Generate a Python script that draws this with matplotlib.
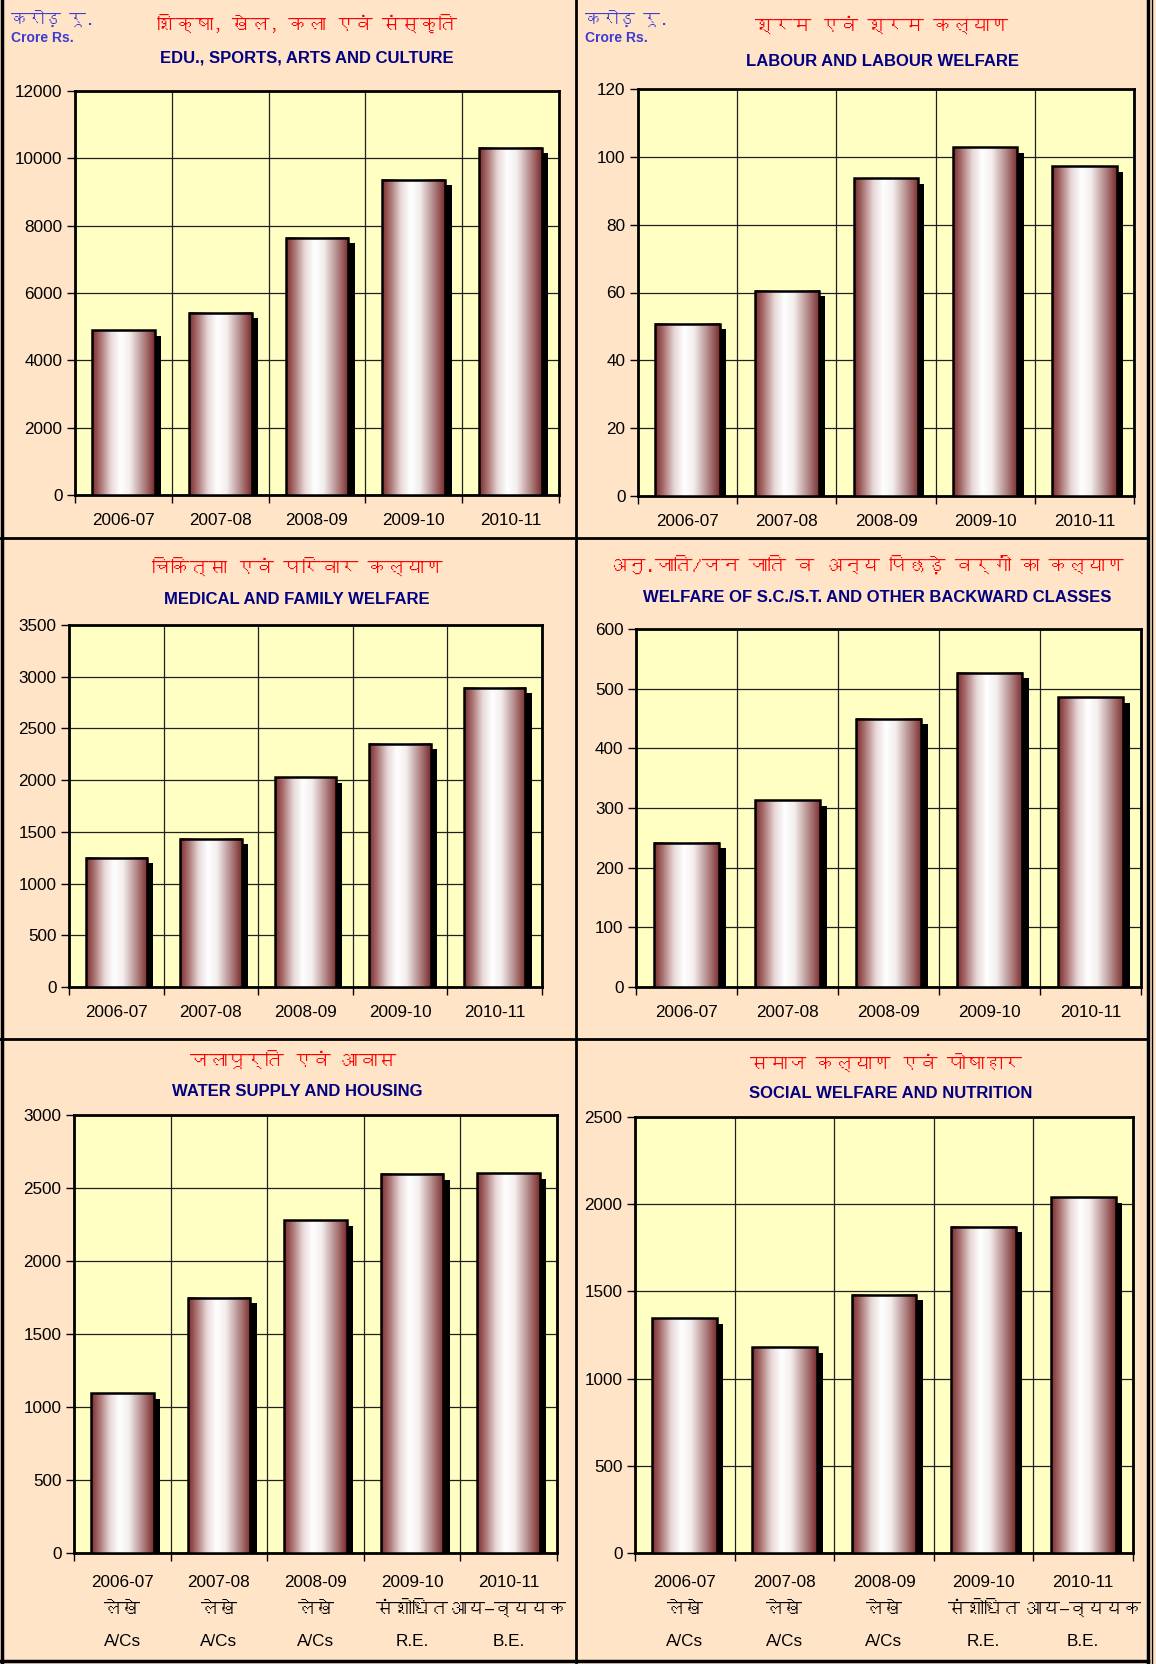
import numpy as np
import matplotlib
matplotlib.use("Agg")
import matplotlib.pyplot as plt
from matplotlib import font_manager as fm
from matplotlib.colors import LinearSegmentedColormap
import matplotlib.patheffects as pe
from matplotlib.lines import Line2D

# ---------------- data ----------------
years = ['2006-07', '2007-08', '2008-09', '2009-10', '2010-11']
hindi_status = ['लेखे', 'लेखे', 'लेखे', 'संशोधित', 'आय—व्ययक']
eng_status = ['A/Cs', 'A/Cs', 'A/Cs', 'R.E.', 'B.E.']

edu = [4900, 5420, 7640, 9360, 10310]
labour = [50.8, 60.5, 93.7, 102.8, 97.2]
medical = [1250, 1435, 2030, 2350, 2895]
scst = [242, 313, 450, 527, 486]
water = [1095, 1748, 2280, 2596, 2602]
social = [1345, 1180, 1480, 1870, 2040]

hindi_titles = ['शिक्षा, खेल, कला एवं संस्कृति', 'श्रम एवं श्रम कल्याण',
                'चिकित्सा एवं परिवार कल्याण',
                'अनु.जाति/जन जाति व अन्य पिछड़े वर्गों का कल्याण',
                'जलापूर्ति एवं आवास', 'समाज कल्याण एवं पोषाहार']
eng_titles = ['EDU., SPORTS, ARTS AND CULTURE', 'LABOUR AND LABOUR WELFARE',
              'MEDICAL AND FAMILY WELFARE',
              'WELFARE OF S.C./S.T. AND OTHER BACKWARD CLASSES',
              'WATER SUPPLY AND HOUSING', 'SOCIAL WELFARE AND NUTRITION']
ymax = [12000, 120, 3500, 600, 3000, 2500]
ystep = [2000, 20, 500, 100, 500, 500]
series = [edu, labour, medical, scst, water, social]


# ---------------- fonts ----------------
def find_font(ch):
    try:
        from fontTools.ttLib import TTFont
    except Exception:
        return None
    for f in fm.fontManager.ttflist:
        try:
            tt = TTFont(f.fname, fontNumber=0, lazy=True)
            cmap = tt.getBestCmap()
            if cmap and ord(ch) in cmap:
                return f.name
        except Exception:
            pass
    return None

deva = find_font('क')
LAT = ['Liberation Sans', 'DejaVu Sans']
HIN = ([deva] if deva else []) + LAT
plt.rcParams['font.family'] = LAT

W, H = 1156, 1664
fig = plt.figure(figsize=(W / 100, H / 100), dpi=100)
fig.patch.set_facecolor('#FFE4C8')


def fx(x):
    return x / W


def fy(y):
    return 1 - y / H


# axes boxes in pixel coords: x0, y0(top), x1, y1(bottom)
boxes = [(75, 91, 559, 495), (638, 89, 1134, 496),
         (69, 625, 542, 987), (636, 629, 1141, 987),
         (74, 1115, 557, 1553), (635, 1117, 1133, 1553)]
hin_pos = [(307, 23), (882, 25), (297, 566), (866, 564), (293, 1059), (886, 1062)]
eng_pos = [(307, 58), (882, 62), (297, 600), (877, 598), (297, 1092), (891, 1094)]

cmap = LinearSegmentedColormap.from_list(
    'cyl', [(0.0, '#7A2C2C'), (0.12, '#A56A6A'), (0.3, '#E8D8D8'),
            (0.45, '#FFFFFF'), (0.6, '#F4EEEE'), (0.8, '#B89090'),
            (1.0, '#7A2C2C')])
grad = np.linspace(0, 1, 256).reshape(1, -1)

x = np.arange(len(years))
bw = 0.65

for i in range(6):
    x0, y0, x1, y1 = boxes[i]
    ax = fig.add_axes([fx(x0), fy(y1), fx(x1 - x0), (y1 - y0) / H])
    ax.set_facecolor('#FFFFC4')
    vals = series[i]
    bars = ax.bar(x, vals, bw, color='#7A2C2C', zorder=2,
                  path_effects=[pe.SimplePatchShadow(offset=(4.5, -4), shadow_rgbFace='black', alpha=1.0),
                                pe.Normal()])
    for r in bars:
        bx, bwid, bh = r.get_x(), r.get_width(), r.get_height()
        ax.imshow(grad, extent=(bx, bx + bwid, 0, bh), aspect='auto', cmap=cmap,
                  interpolation='bicubic', zorder=3)
    ax.bar(x, vals, bw, fill=False, edgecolor='black', linewidth=1.8, zorder=4)
    ax.set_xlim(-0.5, len(years) - 0.5)
    ax.set_ylim(0, ymax[i])
    ax.set_aspect('auto')
    ax.set_yticks(np.arange(0, ymax[i] + ystep[i] / 2, ystep[i]))
    ax.set_xticks(np.arange(-0.5, len(years), 1.0))
    ax.set_xticklabels([])
    ax.set_xticks(x, minor=True)
    ax.set_xticklabels(years, minor=True)
    ax.tick_params(axis='x', which='minor', length=0, pad=13, labelsize=12.3)
    ax.tick_params(axis='x', which='major', length=6, width=1, color='black')
    ax.tick_params(axis='y', length=6, width=1, labelsize=12.3, pad=3)
    if i >= 4:
        ax.tick_params(axis='x', which='minor', pad=16)
        for j in range(len(years)):
            ax.annotate(hindi_status[j], xy=(x[j], 0), xycoords=('data', 'axes fraction'),
                        xytext=(0, -56), textcoords='offset pixels', ha='center', va='center',
                        fontsize=13, family=HIN)
            ax.annotate(eng_status[j], xy=(x[j], 0), xycoords=('data', 'axes fraction'),
                        xytext=(0, -88), textcoords='offset pixels', ha='center', va='center',
                        fontsize=12.3, family=LAT)
    ax.set_axisbelow(True)
    ax.grid(True, which='major', color='#202020', linewidth=0.9)
    for s in ax.spines.values():
        s.set_linewidth(2.0)
        s.set_color('black')
    hx, hy = hin_pos[i]
    fig.text(fx(hx), fy(hy), hindi_titles[i], ha='center', va='center', color='#FF0000',
             fontsize=13.5, family=HIN)
    ex, ey = eng_pos[i]
    fig.text(fx(ex), fy(ey), eng_titles[i], ha='center', va='center', color='#000080',
             fontsize=12, fontweight='bold', family=LAT)

# unit labels
for ux in (11, 585):
    fig.text(fx(ux), fy(18), 'करोड़ रू.', ha='left', va='center', color='#3C3CD0',
             fontsize=12, family=HIN)
    fig.text(fx(ux), fy(38), 'Crore Rs.', ha='left', va='center', color='#3C3CD0',
             fontsize=10, fontweight='bold', family=LAT)

# frame lines
def hline(y, xa, xb, lw=2.0):
    fig.add_artist(Line2D([fx(xa), fx(xb)], [fy(y), fy(y)], color='black', lw=lw))


def vline(xv, ya, yb, lw=2.0):
    fig.add_artist(Line2D([fx(xv), fx(xv)], [fy(ya), fy(yb)], color='black', lw=lw))

hline(538, 0, 1148)
hline(1039, 0, 1148)
vline(576, 0, 1662)
vline(1.5, 0, 1662, lw=2.5)
vline(1148, 0, 1662, lw=2.5)
vline(1152, 0, 1664, lw=1.0)
hline(1661, 0, 1148, lw=2.5)

fig.savefig('out.png', dpi=100, facecolor=fig.get_facecolor())
